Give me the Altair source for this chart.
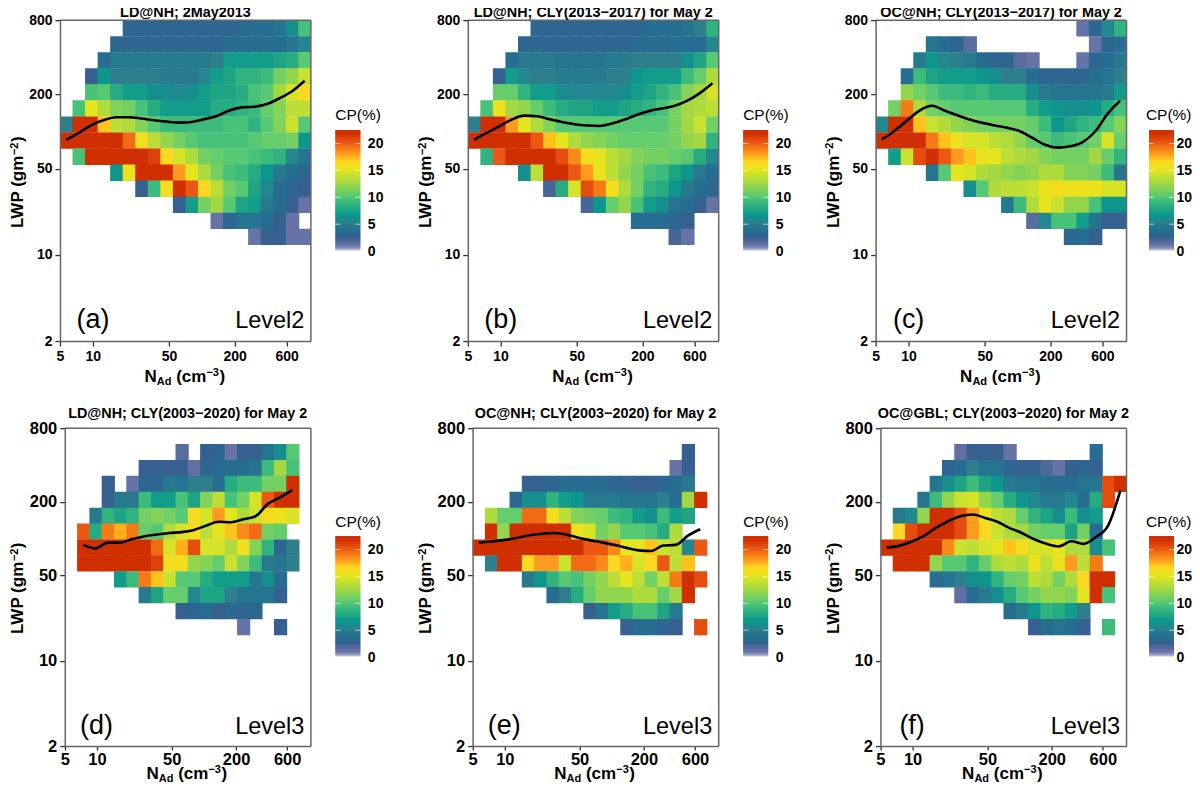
import altair as alt
import numpy as np
import pandas as pd

# rows are counted from the top of the plot: row -> (first column, cell values, None = empty cell)
PANEL_A = {
 0:(5,[3,3,3,3,3,3,3,3,3,3.5,3.5,3.5,4,6,9.5]),
 1:(4,[3,3,3,3,3,3,3,3,3,3.5,3.5,3.5,3.5,3.5,4,5.5]),
 2:(3,[3.5,4.5,4.5,4.5,4.5,4.5,4.5,4.5,4.5,5,7,7,7,7,7.5,8,10]),
 3:(2,[2.5,6.5,5,5,5,5,4.5,4.5,4.5,5.5,7,7.5,8.5,8.5,9,11,12,14]),
 4:(2,[9.5,10,8,7,7,6,6,5.5,6,7,7.5,7.5,8,9.5,10,12.5,14.5,16.5]),
 5:(1,[9.5,15,13,11.5,11,9.5,8,7,7,7,7,8,8,8.5,9,10.5,11.5,13.5,13.5]),
 6:(0,[5,22,22,17,13.5,13,11.5,10,9,9,9,9,9,9.5,9.5,8.5,10,11.5,14,10]),
 7:(0,[22,22,22,22,22,19.5,16,13.5,12,11,10,9.5,9.5,9.5,9.5,10,10.5,10.5,11,6.5]),
 8:(1,[9.5,22,22,22,22,22,21,16.5,14.5,13,11,10.5,10,10,9.5,9,8.5,5.5,4]),
 9:(4,[6.5,15.5,22,22,22,18,15,13,11,9.5,9,8,6.5,4.5,3.5,3]),
 10:(6,[2.5,9,16,22,20,16.5,13.5,11,10,7.5,5.5,3.5,3,2.5]),
 11:(9,[2.5,7,11,12.5,10,7.5,7,4.5,3.5,2.5,1]),
 12:(12,[1,3,4,4,3.5,2.5,1,None]),
 13:(15,[1,2.5,2.5,1,1]),
}
PANEL_B = {
 0:(5,[3,3,3,3,3,3,3,3,3,3.5,3.5,3.5,4,5,8.5]),
 1:(4,[3,3,3,3,3,3,3,3,3,3.5,3.5,3.5,3.5,3.5,3.5,5.5]),
 2:(3,[3.5,4.5,4.5,4.5,4,4,4,4,4.5,4.5,5,5,5,5,6,7.5,10]),
 3:(2,[2.5,7,5.5,5,5,4.5,4.5,4.5,4.5,5,5,6.5,7,7,7,9,10.5,13]),
 4:(2,[10.5,10.5,8.5,7,7,6,5.5,5.5,5.5,5.5,6,7,7.5,8.5,9.5,11.5,12.5,14.5]),
 5:(1,[9.5,15.5,12.5,12,10.5,9,8,7.5,7.5,7,7,7.5,8,8.5,9.5,11,12.5,13,13.5]),
 6:(0,[5,22,22,18,15,13,11.5,10,10,10,10,10,10,10,10,10,11,12.5,14,11]),
 7:(0,[22,22,22,22,22,20,17,15,13,12,11.5,11,10.5,10.5,10.5,10.5,11,12,12.5,8.5]),
 8:(1,[8.5,20,22,22,22,22,20.5,18.5,16,15,13.5,12.5,11.5,11,11,10.5,10,8,5.5]),
 9:(4,[6,13.5,22,22,20,18,15.5,13.5,12,11,9.5,9,7.5,6.5,4.5,3.5]),
 10:(6,[2,8,14.5,20.5,19,16,13,11,8.5,8,6.5,4.5,3.5,3]),
 11:(9,[2,6.5,10.5,12,9.5,7,6,4,3.5,2.5,1]),
 12:(13,[3.5,3.5,3.5,3,2.5]),
 13:(16,[2,1]),
}
PANEL_C = {
 0:(16,[1,3,5.5,8.5]),
 1:(4,[4,3.5,3,1.5,None,None,None,None,None,None,None,None,None,1,3,3.5]),
 2:(3,[4.5,6.5,5.5,5,4.5,3.5,3,3,1.5,1,None,None,None,1,3,3.5,4.5]),
 3:(2,[3.5,9,7.5,7,7,7,6.5,6,5,5,3.5,3,3,3,3,3.5,4,5]),
 4:(2,[12,11,10,9,9,8.5,9,8,8,8,6,4.5,4,4,4,4,4.5,7]),
 5:(1,[11,19,13,11,10.5,10,10,10,10,10,10,8,7,6.5,6,6,6.5,8,9.5]),
 6:(0,[5.5,22,22,17,14,13,12,11.5,11,11,11,11,10.5,9,6.5,7.5,8.5,9,10,11.5]),
 7:(0,[22,22,22,22,19,17,15.5,14.5,14.5,13.5,13,12,10.5,10,9,9.5,10,11,14.5,10.5]),
 8:(1,[7,14,20.5,22,20,18,17,15.5,15,13.5,13,12.5,11.5,11,11,11,12.5,10.5,8.5]),
 9:(4,[4,10,15,14.5,13,12.5,12,11.5,12,13,13,11.5,11.5,11,9,4]),
 10:(7,[6,10,13,13.5,13.5,14,15.5,16,15.5,15.5,15.5,14.5,14.5]),
 11:(10,[4.5,9,13,15,14,12,12,9.5,6.5,6.5]),
 12:(12,[1.5,5.5,9.5,9.5,7,4,2.5,2.5]),
 13:(15,[3,3.5,2.5]),
}
PANEL_D = {
 1:(9,[1.5,None,2.5,3,1,2.5,2.5,4,6,10]),
 2:(6,[2.5,2.5,2.5,2.5,1.2,3,3.5,3.5,3.5,4,9,12.5,9.5]),
 3:(3,[2.5,None,1,3,3,4.5,4,5,5,3.5,8,9,9,11,11,22]),
 4:(3,[2.5,4.5,4.5,9,7,7,9.5,7.5,11.5,13.5,9.5,11,14.5,20,22,22]),
 5:(2,[4.5,8.5,7.5,8.5,11,11.5,11,10,16,14.5,18,15,13,14,16,15.5,14.5]),
 6:(1,[20,8,19,17.5,19,10.5,10,13,14.5,16,13.5,15,17,18.5,19.5,11,10.5]),
 7:(1,[22,22,22,22,22,22,19.5,14.5,17.5,20.5,14.5,14.5,13,15.5,11.5,8.5,3,5]),
 8:(1,[22,22,22,22,22,22,21,16,16,12,11.5,10.5,14,11.5,9,4.5,4,5]),
 9:(4,[7,9,19,17,14,10,10,8,7,7,7,4,6,3.5]),
 10:(6,[4.5,7.5,10.5,10.5,5.5,7.5,7.5,5,4,4,4,2.5]),
 11:(9,[2.5,3,3.5,2.5,3,3,3]),
 12:(14,[1,None,None,2.5]),
}
PANEL_E = {
 1:(17,[2.5]),
 2:(16,[1,2.5]),
 3:(4,[2.5,2.5,3,3.5,3.5,3.5,3.5,3,3,2.5,2.5,3,3.5,4.5]),
 4:(3,[3,6,6,8.5,7,6.5,4.5,4.5,4.5,4,4,4,5,3.5,12.5,22]),
 5:(1,[13,10.5,10.5,19.5,19.5,16,13.5,11.5,11,10.5,9,8.5,7,6,9,7,7.5]),
 6:(1,[22,12,22,22,22,22,22,15.5,14.5,11,12,10,10,9.5,8,13]),
 7:(0,[22,22,22,22,22,22,22,22,22,20,20,18.5,15,15,17,14,13.5,5.5,20]),
 8:(1,[5,22,22,16.5,18,18,14,19.5,19.5,18.5,16.5,17.5,14.5,16.5,20,13.5,17]),
 9:(4,[4.5,6.5,8.5,10,9.5,11,12,13.5,15,13.5,11,13.5,19,22,20.5]),
 10:(6,[3.5,5,8,10.5,12,12,12,13,13,10.5,12.5,22]),
 11:(9,[2.5,4,7,8,9.5,9.5,7.5,4.5]),
 12:(12,[2.5,3.5,3.5,3,2.5,None,20.5]),
}
PANEL_F = {
 1:(6,[1.2,2.5,2.5,2.5,1,None,None,None,None,None,None,3.5]),
 2:(5,[3,3.5,5,4,4,3,2.5,2.5,1.8,1,2.5,3,2.5]),
 3:(4,[4,6,7.5,9,7.5,6.5,4.5,4,4,3.5,3.5,3.5,4,4,20.5,22]),
 4:(3,[4,9,12,14,14.5,12,10.5,8,6.5,5.5,4.5,4.5,5.5,3.5,8,20.5]),
 5:(1,[4.5,5.5,12,22,22,20.5,18,15.5,13.5,13,10.5,8.5,7.5,6,9,6,7]),
 6:(1,[16.5,20.5,22,22,22,20.5,18,16.5,14,13,12.5,11,10.5,10.5,7.5,11,3.5]),
 7:(0,[22,22,22,22,22,18.5,14,13.5,14.5,15,17,16,14.5,14.5,15,13,13,6,9.5]),
 8:(1,[22,22,22,12,10,10,8.5,10.5,13,13.5,13,15.5,13.5,15.5,18,13.5,19]),
 9:(4,[3.5,4,5,6,6.5,8.5,10.5,11,13.5,13,11,13,16.5,22,22]),
 10:(6,[1.2,3.5,4.5,6,8,10,11,12,12,11.5,15,22,9.5]),
 11:(10,[3.5,4.5,6.5,8.5,8,7,5]),
 12:(12,[2.5,3.5,4,3.5,2.5,None,9]),
}

# median curves: first column, then LWP at each column centre
LINE_A = (0,[85.7,97.5,112.6,124,130.6,130.6,127.4,123.4,120.3,118,119.6,126,133.7,148,157,159,167,186,212,258])
LINE_B = (0,[85.7,97.5,110,125,134.5,133,126,119.6,114.7,112,111,116,125,137,147,154,162,178,205,246])
LINE_C = (0,[86.2,101,122.6,148,161.6,148,135.5,125,117.5,112,107,100.6,88.9,78,74,75.8,82,100,139.5,178])
LINE_D = (1,[88.7,83,92.5,92.5,99,104.4,107.7,111,112.7,117.5,127.5,137,136,143.7,152,192,217,249])
LINE_E = (0,[92.5,94.5,97,100.5,106,109,111,108.5,102,97,93,88.7,83.8,80,79,87.6,88.7,105.4,119])
LINE_F = (0,[84.3,87,94,104.4,122,138.4,152,157,147.4,137,121.5,111,98.6,90.4,86.2,95,90.4,102.6,127.5,246])

TITLES = ["LD@NH; 2May2013", "LD@NH; CLY(2013\u22122017) for May 2", "OC@NH; CLY(2013\u22122017) for May 2",
          "LD@NH; CLY(2003\u22122020) for May 2", "OC@NH; CLY(2003\u22122020) for May 2", "OC@GBL; CLY(2003\u22122020) for May 2"]
TAGS = ["(a)", "(b)", "(c)", "(d)", "(e)", "(f)"]
LEVELS = ["Level2", "Level2", "Level2", "Level3", "Level3", "Level3"]
X_TICKS = [5, 10, 50, 200, 600]
Y_TICKS = [2, 10, 50, 200, 800]
CP_TICKS = [0, 5, 10, 15, 20]
CP_STOPS = [0, 0.3, 1, 2.5, 5, 7.5, 10, 12.5, 15, 16.5, 18, 20, 21.5, 22.5]
CP_COLORS = ["#dfe4ee", "#8f9bbd", "#6673a6", "#35608f", "#2d7f8c", "#1fa483", "#57c974", "#a3d844",
             "#e4e51f", "#fcd822", "#fd9a20", "#ec5814", "#d43404", "#cc2a00"]

X_EDGES = np.geomspace(5, 1000, 21)
Y_EDGES = np.geomspace(800, 2, 21)
FONT = "Liberation Sans"
GREY = "#666666"
CP_SCALE = dict(domain=CP_STOPS, range=CP_COLORS, clamp=True)


def cells(panel):
    out = []
    for r, (start, vals) in panel.items():
        for i, v in enumerate(vals):
            if v is not None:
                c = start + i
                out.append(dict(x0=X_EDGES[c], x1=X_EDGES[c + 1] * 1.02, y0=Y_EDGES[r + 1] / 1.0065, y1=Y_EDGES[r], cp=v))
    return pd.DataFrame(out)


def curve(line):
    start, vals = line
    return pd.DataFrame([dict(x=float(np.sqrt(X_EDGES[start + i] * X_EDGES[start + i + 1])), y=v) for i, v in enumerate(vals)])


def label(text, x, y, size=17, angle=0, align="left", weight="bold", baseline="alphabetic"):
    return alt.Chart(alt.Data(values=[{"a": 1}])).mark_text(
        text=text, font=FONT, fontSize=size, fontWeight=weight, align=align, baseline=baseline,
        angle=angle, color="black").encode(x=alt.value(x), y=alt.value(y))


def panel(p, line, i, h, x0, tick_x, tick_y, tick_len, tick_pad, yt_y, xt_x, xt_y, tag_x, tag_y, lev_x, lev_y, title_x, title_y):
    w = 251
    xs = alt.Scale(type="log", domain=[5, 1000], nice=False, range=[x0, w])
    ys = alt.Scale(type="log", domain=[2, 800], nice=False)
    xa = alt.Axis(values=X_TICKS, format="d", title=None, grid=False, labelFont=FONT, labelFontWeight="bold",
                  labelFontSize=tick_x, labelColor="black", labelOverlap=False, tickColor="#333333", tickWidth=1.3,
                  tickSize=tick_len, domainColor=GREY, domainWidth=1.5, labelPadding=tick_pad, labelFlush=False, zindex=1)
    ya = alt.Axis(values=Y_TICKS, format="d", title=None, grid=False, labelFont=FONT, labelFontWeight="bold",
                  labelFontSize=tick_y, labelColor="black", labelOverlap=False, tickColor="#333333", tickWidth=1.3,
                  tickSize=5, domainColor=GREY, domainWidth=1.5, labelPadding=3, labelFlush=False, zindex=1,
                  offset=-x0)
    rect = alt.Chart(cells(p)).mark_rect(clip=True).encode(
        x=alt.X("x0:Q", scale=xs, axis=xa), x2="x1:Q",
        y=alt.Y("y0:Q", scale=ys, axis=ya), y2="y1:Q",
        color=alt.Color("cp:Q", scale=alt.Scale(**CP_SCALE), legend=None))
    ln = alt.Chart(curve(line)).mark_line(color="black", strokeWidth=2.6, interpolate="monotone").encode(
        x=alt.X("x:Q", scale=xs), y=alt.Y("y:Q", scale=ys))
    top_edge = alt.Chart(alt.Data(values=[{"x": 5, "x2": 1000, "y": 800}])).mark_rule(color=GREY, strokeWidth=1.5).encode(
        x=alt.X("x:Q", scale=xs), x2="x2:Q", y=alt.Y("y:Q", scale=ys))
    right_edge = alt.Chart(alt.Data(values=[{"x": 1000, "y": 2, "y2": 800}])).mark_rule(color=GREY, strokeWidth=1.5).encode(
        x=alt.X("x:Q", scale=xs), y=alt.Y("y:Q", scale=ys), y2="y2:Q")
    yt_x = -37
    layers = [rect, ln, top_edge, right_edge,
              label(TITLES[i], title_x, title_y, size=14.4, align="center"),
              label(TAGS[i], tag_x, tag_y, size=27, align="center", weight="normal", baseline="middle"),
              label(LEVELS[i], lev_x, lev_y, size=23.5, align="right", weight="normal"),
              # y title
              label("LWP (gm", yt_x, yt_y, angle=270),
              label("\u22122", yt_x - 5.3, yt_y - 73, size=11, angle=270),
              label(")", yt_x, yt_y - 86, angle=270),
              # x title
              label("N", xt_x, xt_y),
              label("Ad", xt_x + 12.3, xt_y + 3, size=11),
              label("(cm", xt_x + 31.7, xt_y),
              label("\u22123", xt_x + 62, xt_y - 6.5, size=11),
              label(")", xt_x + 75, xt_y)]
    return alt.layer(*layers).properties(width=w, height=h, view=alt.ViewConfig(stroke=None))


def colorbar(h, top, bottom, title_y, w, dx=0, pad=7, title_right=None):
    ramp = pd.DataFrame({"v0": np.arange(0, 22.5, 0.25)})
    ramp["v1"] = np.minimum(ramp["v0"] + 0.45, 22.5)
    ys = alt.Scale(domain=[0, 22.5], range=[bottom, top], nice=False, zero=False)
    ya = alt.Axis(values=CP_TICKS, orient="right", title=None, grid=False, domain=False, ticks=False, labelFont=FONT,
                  labelFontWeight="bold", labelFontSize=14, labelColor="black", labelPadding=pad, labelOverlap=False,
                  labelFlush=False, offset=25 + dx - w)
    bar = alt.Chart(ramp).mark_rect().encode(
        x=alt.value(dx), x2=alt.value(25 + dx),
        y=alt.Y("v0:Q", scale=ys, axis=ya), y2="v1:Q",
        color=alt.Color("v0:Q", scale=alt.Scale(**CP_SCALE), legend=None))
    marks = pd.DataFrame({"v": CP_TICKS[1:]})
    left = alt.Chart(marks).mark_rule(color="white", strokeWidth=0.8, opacity=0.8).encode(
        x=alt.value(dx), x2=alt.value(5 + dx), y=alt.Y("v:Q", scale=ys))
    right = alt.Chart(marks).mark_rule(color="white", strokeWidth=0.8, opacity=0.8).encode(
        x=alt.value(20 + dx), x2=alt.value(25 + dx), y=alt.Y("v:Q", scale=ys))
    if title_right is None:
        head = label("CP(%)", dx, title_y, size=15.5, weight="normal")
    else:
        head = label("CP(%)", title_right, title_y, size=15.5, weight="normal", align="right")
    return alt.layer(bar, left, right, head).properties(width=w, height=h, view=alt.ViewConfig(stroke=None))


TOP = dict(h=321, x0=0, tick_x=14, tick_y=14, tick_len=5, tick_pad=3, yt_y=208, xt_x=84.5, xt_y=362,
           tag_x=33, tag_y=300, lev_x=244.5, lev_y=308, title_y=-3)
BOT = dict(h=318, x0=4.8, tick_x=16.5, tick_y=16.5, tick_len=4, tick_pad=1, yt_y=206, xt_x=86.5, xt_y=351,
           tag_x=36.5, tag_y=298, lev_x=244.5, lev_y=306, title_y=-10.5)
GAP = 24.5
WIDE = 108
LAST = dict(w=40, dx=-2, pad=2, title_right=40.5)

row1 = alt.hconcat(panel(PANEL_A, LINE_A, 0, title_x=125.5, **TOP), colorbar(321, 110, 231, 100, WIDE),
                   panel(PANEL_B, LINE_B, 1, title_x=125.5, **TOP), colorbar(321, 110, 231, 100, WIDE),
                   panel(PANEL_C, LINE_C, 2, title_x=125.5, **TOP), colorbar(321, 110, 231, 100, **LAST),
                   spacing=GAP, bounds="flush")
row2 = alt.hconcat(panel(PANEL_D, LINE_D, 3, title_x=127.8, **BOT), colorbar(318, 108, 229, 99, WIDE),
                   panel(PANEL_E, LINE_E, 4, title_x=127.8, **BOT), colorbar(318, 108, 229, 99, WIDE),
                   panel(PANEL_F, LINE_F, 5, title_x=127.8, **BOT), colorbar(318, 108, 229, 99, **LAST),
                   spacing=GAP, bounds="flush")
chart = alt.vconcat(row1, row2, spacing=18.2).properties(
    padding={"left": 0, "top": -3, "right": -0.5, "bottom": -2.3}, background="white")

chart.save("out.html", embed_options={"renderer": "svg", "actions": False})
